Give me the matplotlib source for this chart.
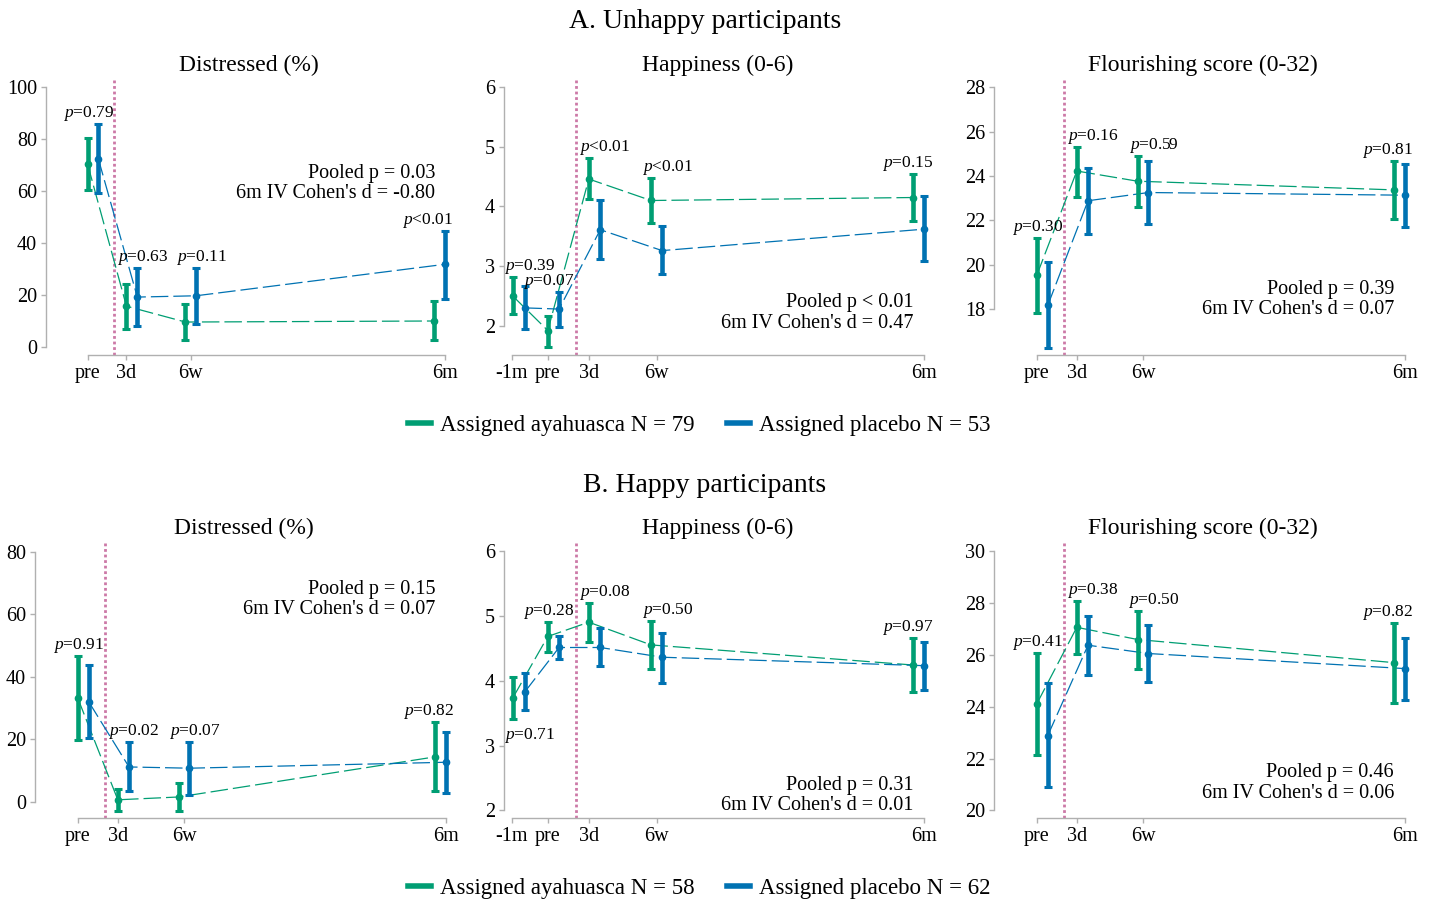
import matplotlib
matplotlib.use('Agg')
import matplotlib.pyplot as plt
from matplotlib.lines import Line2D

plt.rcParams['font.family'] = ['Liberation Serif', 'DejaVu Serif']
plt.rcParams['mathtext.fontset'] = 'custom'
plt.rcParams['mathtext.rm'] = 'Liberation Serif'
plt.rcParams['mathtext.it'] = 'Liberation Serif:italic'

GREEN = '#009E73'
BLUE = '#0072B2'
PINK = '#CC79A7'
GREY = '#b0b0b0'

W, H = 1434, 902

# ---- data -------------------------------------------------------------
times_4 = ['pre', '3d', '6w', '6m']
times_5 = ['-1m', 'pre', '3d', '6w', '6m']

# A. unhappy participants
a_dist_aya = [70.4, 15.7, 9.6, 10.0]
a_dist_aya_lo = [60.2, 7.1, 2.6, 2.6]
a_dist_aya_hi = [80.5, 24.4, 16.7, 17.7]
a_dist_pla = [72.5, 19.2, 19.7, 31.8]
a_dist_pla_lo = [59.2, 8.0, 8.9, 18.6]
a_dist_pla_hi = [85.8, 30.5, 30.5, 44.8]
a_dist_p = ['=0.79', '=0.63', '=0.11', '<0.01']
a_dist_stats = ['Pooled p = 0.03', "6m IV Cohen's d = -0.80"]

a_happy_aya = [2.50, 1.92, 4.46, 4.10, 4.15]
a_happy_aya_lo = [2.20, 1.64, 4.13, 3.73, 3.75]
a_happy_aya_hi = [2.82, 2.17, 4.82, 4.47, 4.55]
a_happy_pla = [2.30, 2.28, 3.61, 3.26, 3.62]
a_happy_pla_lo = [1.95, 1.98, 3.12, 2.87, 3.09]
a_happy_pla_hi = [2.67, 2.57, 4.11, 3.67, 4.17]
a_happy_p = ['=0.39', '=0.07', '<0.01', '<0.01', '=0.15']
a_happy_stats = ['Pooled p < 0.01', "6m IV Cohen's d = 0.47"]

a_flour_aya = [19.53, 24.23, 23.77, 23.38]
a_flour_aya_lo = [17.85, 23.08, 22.62, 22.08]
a_flour_aya_hi = [21.21, 25.33, 24.91, 24.70]
a_flour_pla = [18.18, 22.89, 23.26, 23.14]
a_flour_pla_lo = [16.27, 21.41, 21.84, 21.72]
a_flour_pla_hi = [20.13, 24.37, 24.70, 24.56]
a_flour_p = ['=0.30', '=0.16', '=0.59', '=0.81']
a_flour_stats = ['Pooled p = 0.39', "6m IV Cohen's d = 0.07"]

a_n = [79, 53]

# B. happy participants
b_dist_aya = [33.2, 0.7, 1.6, 14.4]
b_dist_aya_lo = [19.7, -2.9, -2.9, 3.5]
b_dist_aya_hi = [46.7, 4.3, 6.1, 25.5]
b_dist_pla = [32.0, 11.2, 10.8, 12.7]
b_dist_pla_lo = [20.5, 3.5, 2.3, 3.0]
b_dist_pla_hi = [43.7, 19.1, 19.1, 22.3]
b_dist_p = ['=0.91', '=0.02', '=0.07', '=0.82']
b_dist_stats = ['Pooled p = 0.15', "6m IV Cohen's d = 0.07"]

b_happy_aya = [3.73, 4.68, 4.90, 4.55, 4.24]
b_happy_aya_lo = [3.41, 4.44, 4.59, 4.18, 3.82]
b_happy_aya_hi = [4.05, 4.90, 5.19, 4.92, 4.65]
b_happy_pla = [3.82, 4.51, 4.51, 4.36, 4.23]
b_happy_pla_lo = [3.54, 4.34, 4.22, 3.97, 3.86]
b_happy_pla_hi = [4.11, 4.68, 4.81, 4.74, 4.60]
b_happy_p = ['=0.71', '=0.28', '=0.08', '=0.50', '=0.97']
b_happy_stats = ['Pooled p = 0.31', "6m IV Cohen's d = 0.01"]

b_flour_aya = [24.11, 27.06, 26.59, 25.70]
b_flour_aya_lo = [22.13, 26.03, 25.46, 24.15]
b_flour_aya_hi = [26.08, 28.07, 27.70, 27.24]
b_flour_pla = [22.89, 26.37, 26.05, 25.47]
b_flour_pla_lo = [20.89, 25.21, 24.94, 24.27]
b_flour_pla_hi = [24.93, 27.51, 27.16, 26.66]
b_flour_p = ['=0.41', '=0.38', '=0.50', '=0.82']
b_flour_stats = ['Pooled p = 0.46', "6m IV Cohen's d = 0.06"]

b_n = [58, 62]

# ---- layout -----------------------------------------------------------
TIME_POS = {'-1m': -44.3, 'pre': -23.6, '3d': 0.0, '6w': 39.0, '6m': 193.1}
AYA_SHIFT = {'-1m': 0.5, 'pre': 0.0, '3d': 0.0, '6w': -3.2, '6m': -6.5}
PLA_SHIFT = {'-1m': 7.3, 'pre': 6.5, '3d': 6.6, '6w': 3.2, '6m': 0.0}
LABEL_DX = {'-1m': 18, 'pre': 1, '3d': 16, '6w': 11, '6m': -17}  # pixels
DOSE_X = -7.4
XLIM = (-48.8, 197.5)
PX = 0.72  # points per pixel at dpi 100


def fig_xy(x, y):
    return x / W, 1 - y / H


def draw_panel(fig, rect, times, aya, aya_lo, aya_hi, pla, pla_lo, pla_hi,
               pvals, stats, title, yticks, ylim, stats_xy, below=()):
    left, top, right, bottom = rect
    ax = fig.add_axes([left / W, 1 - bottom / H, (right - left) / W, (bottom - top) / H])
    ax.set_xlim(*XLIM)
    ax.set_ylim(*ylim)

    ax.axvline(DOSE_X, color=PINK, lw=2.0, ls=(0, (1, 1)), zorder=1)

    for vals, lo, hi, shift, col in [(aya, aya_lo, aya_hi, AYA_SHIFT, GREEN),
                                     (pla, pla_lo, pla_hi, PLA_SHIFT, BLUE)]:
        xs = [TIME_POS[t] + shift[t] for t in times]
        ax.plot(xs, vals, color=col, lw=0.9, ls=(0, (14, 4)), zorder=2)
        err = [[v - l for v, l in zip(vals, lo)], [h - v for v, h in zip(vals, hi)]]
        ax.errorbar(xs, vals, yerr=err, fmt='o', color=col, ms=4.5, elinewidth=3.3,
                    capsize=3.2, capthick=2.2, zorder=3)

    for i, t in enumerate(times):
        label = '$p$' + pvals[i]
        if i in below:
            y = min(aya_lo[i], pla_lo[i])
            dy = -20
        else:
            y = max(aya_hi[i], pla_hi[i])
            dy = 7
        ax.annotate(label, xy=(TIME_POS[t], y), xytext=(LABEL_DX[t] * PX, dy * PX),
                    textcoords='offset points', ha='center', va='baseline', fontsize=12.5)

    sx, sy = stats_xy
    ax.text(sx, sy, stats[0], transform=ax.transAxes, ha='right', va='baseline', fontsize=14.5)
    ax.text(sx, sy - 20.5 / (bottom - top), stats[1], transform=ax.transAxes,
            ha='right', va='baseline', fontsize=14.5)

    ax.set_yticks(yticks)
    ax.set_xticks([TIME_POS[t] for t in times])
    ax.set_xticklabels(times)
    for side in ['top', 'right']:
        ax.spines[side].set_visible(False)
    ax.spines['left'].set_bounds(yticks[0], yticks[-1])
    ax.spines['bottom'].set_bounds(TIME_POS[times[0]], TIME_POS[times[-1]])
    for side in ['left', 'bottom']:
        ax.spines[side].set_color(GREY)
        ax.spines[side].set_linewidth(1.0)
    ax.tick_params(axis='both', colors=GREY, labelcolor='black', labelsize=14.5,
                   length=3.5, width=1.0, pad=3)

    cx = (left + right) / 2
    fig.text(*fig_xy(cx, top - 15), title, ha='center', va='center', fontsize=17)
    return ax


fig = plt.figure(figsize=(W / 100, H / 100), dpi=100)

draw_panel(fig, (46, 80, 452, 355), times_4, a_dist_aya, a_dist_aya_lo, a_dist_aya_hi,
           a_dist_pla, a_dist_pla_lo, a_dist_pla_hi, a_dist_p, a_dist_stats,
           'Distressed (%)', [0, 20, 40, 60, 80, 100], (-3.08, 102.7), (0.958, 0.644))
draw_panel(fig, (504, 80, 932, 355), times_5, a_happy_aya, a_happy_aya_lo, a_happy_aya_hi,
           a_happy_pla, a_happy_pla_lo, a_happy_pla_hi, a_happy_p, a_happy_stats,
           'Happiness (0-6)', [2, 3, 4, 5, 6], (1.51, 6.12), (0.956, 0.173))
draw_panel(fig, (994, 80, 1412, 355), times_4, a_flour_aya, a_flour_aya_lo, a_flour_aya_hi,
           a_flour_pla, a_flour_pla_lo, a_flour_pla_hi, a_flour_p, a_flour_stats,
           'Flourishing score (0-32)', [18, 20, 22, 24, 26, 28], (15.94, 28.33), (0.957, 0.222))

draw_panel(fig, (35, 543, 453, 818), times_4, b_dist_aya, b_dist_aya_lo, b_dist_aya_hi,
           b_dist_pla, b_dist_pla_lo, b_dist_pla_hi, b_dist_p, b_dist_stats,
           'Distressed (%)', [0, 20, 40, 60, 80], (-5.12, 82.8), (0.957, 0.815))
draw_panel(fig, (504, 543, 932, 818), times_5, b_happy_aya, b_happy_aya_lo, b_happy_aya_hi,
           b_happy_pla, b_happy_pla_lo, b_happy_pla_hi, b_happy_p, b_happy_stats,
           'Happiness (0-6)', [2, 3, 4, 5, 6], (1.883, 6.12), (0.956, 0.102), below=(0,))
draw_panel(fig, (994, 543, 1412, 818), times_4, b_flour_aya, b_flour_aya_lo, b_flour_aya_hi,
           b_flour_pla, b_flour_pla_lo, b_flour_pla_hi, b_flour_p, b_flour_stats,
           'Flourishing score (0-32)', [20, 22, 24, 26, 28, 30], (19.71, 30.31), (0.957, 0.148))

fig.text(*fig_xy(705, 22), 'A. Unhappy participants', ha='center', va='center', fontsize=20)
fig.text(*fig_xy(705, 485), 'B. Happy participants', ha='center', va='center', fontsize=20)

for n, ypix in [(a_n, 425), (b_n, 888)]:
    handles = [Line2D([], [], color=GREEN, lw=4), Line2D([], [], color=BLUE, lw=4)]
    labels = ['Assigned ayahuasca N = %d' % n[0], 'Assigned placebo N = %d' % n[1]]
    fig.legend(handles, labels, loc='center', bbox_to_anchor=fig_xy(699, ypix), ncol=2,
               frameon=False, fontsize=16.5, handlelength=1.0, handletextpad=0.4,
               columnspacing=1.4)

fig.savefig('out.png', dpi=100)
